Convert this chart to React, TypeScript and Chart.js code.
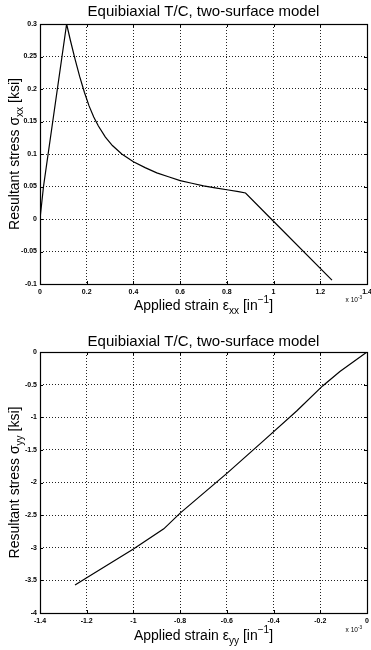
import React, { useEffect, useRef } from 'react';
import { Chart, registerables } from 'chart.js';

Chart.register(...registerables);

// ---------- data (strain in units of 1e-3 in^-1, stress in ksi) ----------
const strainXX = [0, 0.015, 0.114, 0.13, 0.15, 0.17, 0.19, 0.21, 0.23, 0.25, 0.28, 0.31, 0.35, 0.4, 0.45, 0.5, 0.55, 0.6, 0.65, 0.7, 0.75, 0.8, 0.85, 0.88, 0.99, 1.25];
const stressXX = [0, 0.05, 0.3, 0.275, 0.246, 0.219, 0.195, 0.174, 0.157, 0.143, 0.126, 0.113, 0.1, 0.088, 0.079, 0.071, 0.065, 0.059, 0.055, 0.051, 0.048, 0.045, 0.042, 0.04, 0.0, -0.094];

const strainYY = [0, -0.116, -0.19, -0.3, -0.44, -0.6, -0.8, -0.87, -1.0, -1.2, -1.25];
const stressYY = [0, -0.3, -0.52, -0.9, -1.35, -1.86, -2.47, -2.71, -3.02, -3.46, -3.57];

const xTicksTop = [0, 0.2, 0.4, 0.6, 0.8, 1, 1.2, 1.4];
const yTicksTop = [-0.1, -0.05, 0, 0.05, 0.1, 0.15, 0.2, 0.25, 0.3];
const xTicksBottom = [-1.4, -1.2, -1, -0.8, -0.6, -0.4, -0.2, 0];
const yTicksBottom = [-4, -3.5, -3, -2.5, -2, -1.5, -1, -0.5, 0];

const titleText = 'Equibiaxial T/C, two-surface model';

type Seg = { t: string; s?: 'sub' | 'sup' };

const FONT = '"Liberation Sans", Arial, Helvetica, sans-serif';
const W = 371;
const H = 325;

function drawRich(
  ctx: CanvasRenderingContext2D,
  segs: Seg[],
  x: number,
  y: number,
  size: number,
  align: 'center' | 'right',
  rotate = false
) {
  ctx.save();
  ctx.translate(x, y);
  if (rotate) ctx.rotate(-Math.PI / 2);
  ctx.textBaseline = 'middle';
  ctx.textAlign = 'left';
  ctx.fillStyle = '#000';
  const small = size * 0.72;
  const widths = segs.map((sg) => {
    ctx.font = `${sg.s ? small : size}px ${FONT}`;
    return ctx.measureText(sg.t).width;
  });
  const total = widths.reduce((a, b) => a + b, 0);
  let cx = align === 'center' ? -total / 2 : -total;
  segs.forEach((sg, i) => {
    ctx.font = `${sg.s ? small : size}px ${FONT}`;
    const dy = sg.s === 'sub' ? size * 0.38 : sg.s === 'sup' ? -size * 0.38 : 0;
    ctx.fillText(sg.t, cx, dy);
    cx += widths[i];
  });
  ctx.restore();
}

interface PanelCfg {
  xs: number[];
  ys: number[];
  xTicks: number[];
  yTicks: number[];
  plotTop: number;
  plotBottom: number;
  titleY: number;
  xLabel: Seg[];
  yLabel: Seg[];
  xLabelY: number;
  multY: number;
}

function Panel({ cfg }: { cfg: PanelCfg }) {
  const ref = useRef<HTMLCanvasElement | null>(null);
  useEffect(() => {
    if (!ref.current) return;
    const xMin = cfg.xTicks[0];
    const xMax = cfg.xTicks[cfg.xTicks.length - 1];
    const yMin = cfg.yTicks[0];
    const yMax = cfg.yTicks[cfg.yTicks.length - 1];

    const decor = {
      id: 'decor',
      afterDraw(chart: any) {
        const ctx: CanvasRenderingContext2D = chart.ctx;
        const a = chart.chartArea;
        const xs = chart.scales.x;
        const ys = chart.scales.y;
        ctx.save();
        ctx.strokeStyle = '#000';
        ctx.lineWidth = 1;
        ctx.setLineDash([]);
        ctx.beginPath();
        const tl = 3;
        cfg.xTicks.forEach((v) => {
          const px = Math.round(xs.getPixelForValue(v)) + 0.5;
          ctx.moveTo(px, a.bottom);
          ctx.lineTo(px, a.bottom - tl);
          ctx.moveTo(px, a.top);
          ctx.lineTo(px, a.top + tl);
        });
        cfg.yTicks.forEach((v) => {
          const py = Math.round(ys.getPixelForValue(v)) + 0.5;
          ctx.moveTo(a.left, py);
          ctx.lineTo(a.left + tl, py);
          ctx.moveTo(a.right, py);
          ctx.lineTo(a.right - tl, py);
        });
        ctx.stroke();
        ctx.lineWidth = 1.2;
        ctx.strokeRect(a.left + 0.5, a.top + 0.5, a.right - a.left, a.bottom - a.top);
        ctx.restore();

        const cx = (a.left + a.right) / 2;
        drawRich(ctx, [{ t: titleText }], cx, cfg.titleY, 15, 'center');
        drawRich(ctx, cfg.xLabel, cx, cfg.xLabelY, 14, 'center');
        drawRich(ctx, cfg.yLabel, 15, (a.top + a.bottom) / 2, 14, 'center', true);
        drawRich(ctx, [{ t: 'x 10' }, { t: '-3', s: 'sup' }], 362, cfg.multY, 6.5, 'right');
      },
    };

    const tickFont = { size: 7, weight: 'bold' as const, family: FONT };

    const chart = new Chart(ref.current, {
      type: 'line',
      data: {
        datasets: [
          {
            data: cfg.xs.map((x, i) => ({ x, y: cfg.ys[i] })),
            borderColor: '#000',
            borderWidth: 1.2,
            pointRadius: 0,
            tension: 0,
            fill: false,
          },
        ],
      },
      options: {
        animation: false,
        responsive: false,
        maintainAspectRatio: false,
        layout: { padding: { top: cfg.plotTop, right: 4, left: 0, bottom: 0 } },
        plugins: {
          legend: { display: false },
          tooltip: { enabled: false },
          title: { display: false },
        },
        scales: {
          x: {
            type: 'linear',
            min: xMin,
            max: xMax,
            afterBuildTicks: (s: any) => {
              s.ticks = cfg.xTicks.map((v) => ({ value: v }));
            },
            afterFit: (s: any) => {
              s.height = H - cfg.plotBottom;
              s.paddingLeft = 0;
              s.paddingRight = 0;
            },
            grid: { color: '#222', lineWidth: 1, drawTicks: false },
            border: { display: false, dash: [1, 2] },
            ticks: {
              font: tickFont,
              color: '#000',
              padding: 4,
              maxRotation: 0,
              autoSkip: false,
              callback: (v: any) => String(v),
            },
          },
          y: {
            type: 'linear',
            min: yMin,
            max: yMax,
            afterBuildTicks: (s: any) => {
              s.ticks = cfg.yTicks.map((v) => ({ value: v }));
            },
            afterFit: (s: any) => {
              s.width = 40;
              s.paddingTop = 0;
              s.paddingBottom = 0;
            },
            grid: { color: '#222', lineWidth: 1, drawTicks: false },
            border: { display: false, dash: [1, 2] },
            ticks: {
              font: tickFont,
              color: '#000',
              padding: 3,
              autoSkip: false,
              callback: (v: any) => String(v),
            },
          },
        },
      } as any,
      plugins: [decor],
    });
    return () => chart.destroy();
  }, [cfg]);
  return <canvas ref={ref} width={W} height={H} style={{ display: 'block', width: W, height: H }} />;
}

const topCfg: PanelCfg = {
  xs: strainXX,
  ys: stressXX,
  xTicks: xTicksTop,
  yTicks: yTicksTop,
  plotTop: 24,
  plotBottom: 284,
  titleY: 12,
  xLabel: [{ t: 'Applied strain ε' }, { t: 'xx', s: 'sub' }, { t: ' [in' }, { t: '−1', s: 'sup' }, { t: ']' }],
  yLabel: [{ t: 'Resultant stress σ' }, { t: 'xx', s: 'sub' }, { t: ' [ksi]' }],
  xLabelY: 306,
  multY: 300,
};

const bottomCfg: PanelCfg = {
  xs: strainYY,
  ys: stressYY,
  xTicks: xTicksBottom,
  yTicks: yTicksBottom,
  plotTop: 27,
  plotBottom: 288,
  titleY: 17,
  xLabel: [{ t: 'Applied strain ε' }, { t: 'yy', s: 'sub' }, { t: ' [in' }, { t: '−1', s: 'sup' }, { t: ']' }],
  yLabel: [{ t: 'Resultant stress σ' }, { t: 'yy', s: 'sub' }, { t: ' [ksi]' }],
  xLabelY: 311,
  multY: 305,
};

export default function App() {
  return (
    <div style={{ position: 'fixed', left: 0, top: 0, width: W, height: 650, background: '#fff' }}>
      <Panel cfg={topCfg} />
      <Panel cfg={bottomCfg} />
    </div>
  );
}
